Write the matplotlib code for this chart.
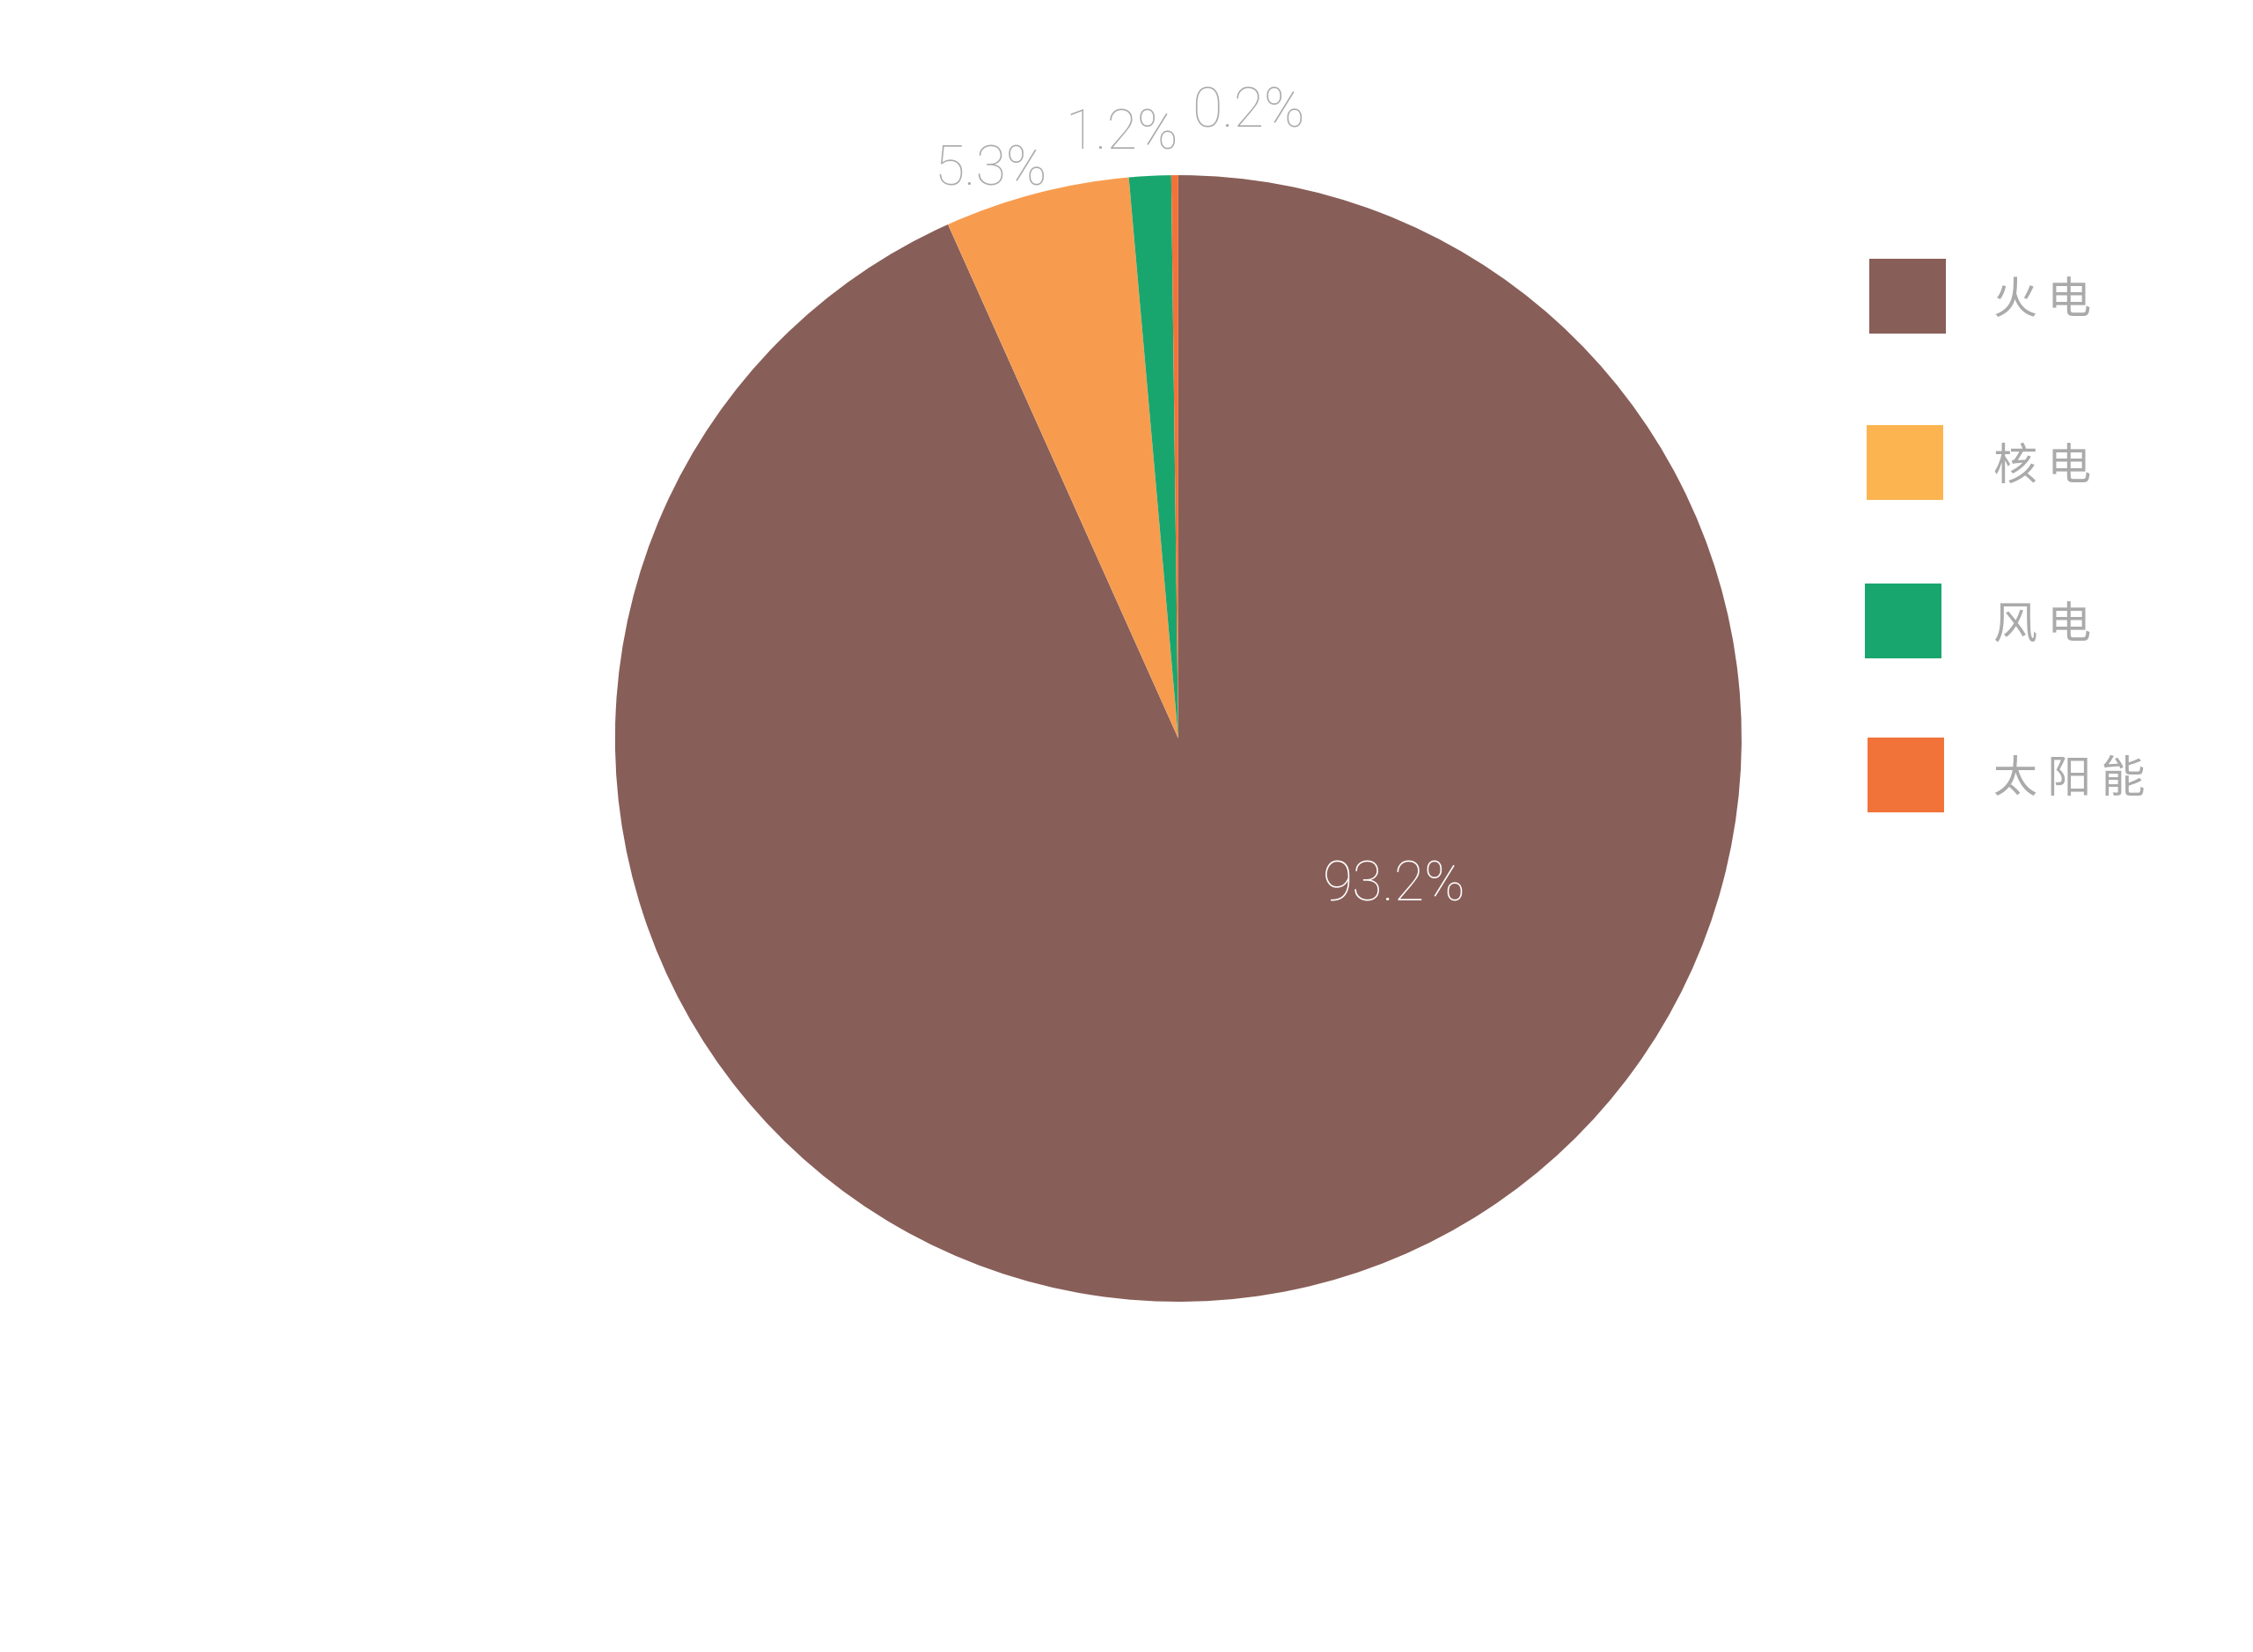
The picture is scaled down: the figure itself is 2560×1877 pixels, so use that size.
import matplotlib.pyplot as plt
from matplotlib.patches import Rectangle

# données
labels = ["火电", "核电", "风电", "太阳能"]
values = [93.2, 5.3, 1.2, 0.2]
pct_text = ["93.2%", "5.3%", "1.2%", "0.2%"]
slice_colors = ["#885E58", "#F79C4F", "#19A66E", "#F2733A"]
legend_colors = ["#885E58", "#FBB450", "#19A66E", "#F2733A"]

# positions des étiquettes (unités du rayon)
label_pos = [(0.383, -0.261), (-0.333, 1.009), (-0.100, 1.073), (0.125, 1.112)]
label_col = ["white", "#AAAAAA", "#AAAAAA", "#AAAAAA"]

W, H = 2560, 1877
fig = plt.figure(figsize=(W / 100, H / 100), dpi=100)
ax = fig.add_axes([0.2105, 0.1268, 0.625, 0.8524])

ax.pie(values, colors=slice_colors, startangle=90, counterclock=False,
       radius=1.0, wedgeprops=dict(linewidth=0))
ax.set_xlim(-1.25, 1.25)
ax.set_ylim(-1.25, 1.25)
ax.set_aspect("equal")
ax.axis("off")

for (x, y), t, c in zip(label_pos, pct_text, label_col):
    ax.text(x, y, t, ha="center", va="center", fontsize=45, color=c,
            family="Roboto", fontweight="light")

# légende dessinée à la main (carrés + texte espacé)
row_top = [294, 483, 663, 838]
row_left = [2124, 2121, 2119, 2122]
for top, left, lab, col in zip(row_top, row_left, labels, legend_colors):
    fig.patches.append(Rectangle((left / W, 1 - (top + 85) / H), 87 / W, 85 / H,
                                 transform=fig.transFigure, facecolor=col,
                                 edgecolor="none"))
    fig.text(2265 / W, 1 - (top + 48) / H, " ".join(lab), ha="left", va="center",
             fontsize=36, color="#AAAAAA", family=["Noto Sans CJK SC", "DejaVu Sans"])

fig.savefig("out.png", dpi=100, facecolor="white")
